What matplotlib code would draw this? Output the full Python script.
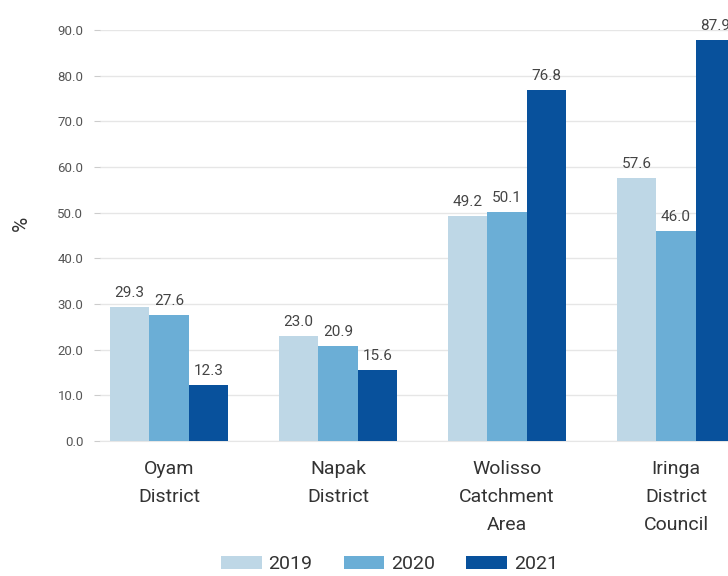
import numpy as np
import matplotlib.pyplot as plt

plt.rcParams['font.family'] = ['Roboto', 'DejaVu Sans']

categories = ['Oyam\nDistrict', 'Napak\nDistrict', 'Wolisso\nCatchment\nArea', 'Iringa\nDistrict\nCouncil']
years = ['2019', '2020', '2021']
v2019 = [29.3, 23.0, 49.2, 57.6]
v2020 = [27.6, 20.9, 50.1, 46.0]
v2021 = [12.3, 15.6, 76.8, 87.9]
colors = ['#bed7e6', '#6baed6', '#08519c']

fig = plt.figure(figsize=(7.28, 5.76), dpi=100)
ax = fig.add_axes([0.1374, 0.2344, 0.8626, 0.7136])

x = np.arange(len(categories))
w = 0.234
for k, (vals, yr, c) in enumerate(zip([v2019, v2020, v2021], years, colors)):
    bars = ax.bar(x + (k - 1) * w, vals, w, color=c, label=yr, zorder=3)
    ax.bar_label(bars, labels=[f'{v:.1f}' for v in vals], padding=5,
                 fontsize=11, color='#444444', clip_on=False)

ax.set_xlim(-0.408, 3.308)
ax.set_ylim(0, 90)
ax.set_yticks(np.arange(0, 91, 10))
ax.set_yticklabels([f'{v:.1f}' for v in np.arange(0, 91, 10)], fontsize=9.5, color='#555555')
ax.grid(axis='y', color='#e6e6e6', linewidth=1, zorder=0)
ax.tick_params(axis='y', length=4, color='#cccccc', pad=8)
ax.set_xticks(x)
ax.set_xticklabels(categories, fontsize=14, color='#333333', linespacing=1.7)
ax.tick_params(axis='x', length=0, pad=14)
for s in ['top', 'right', 'left']:
    ax.spines[s].set_visible(False)
ax.spines['bottom'].set_color('#e6e6e6')
ax.set_ylabel('%', fontsize=15, color='#333333')
ax.yaxis.set_label_coords(-0.11, 0.53)

handles, labels = ax.get_legend_handles_labels()
fig.legend(handles, labels, loc='lower center', bbox_to_anchor=(0.535, -0.025), ncol=3,
           frameon=False, fontsize=14, handlelength=2.1, handleheight=0.65,
           handletextpad=0.35, columnspacing=1.6, labelcolor='#333333')

fig.savefig('out.png', dpi=100)
